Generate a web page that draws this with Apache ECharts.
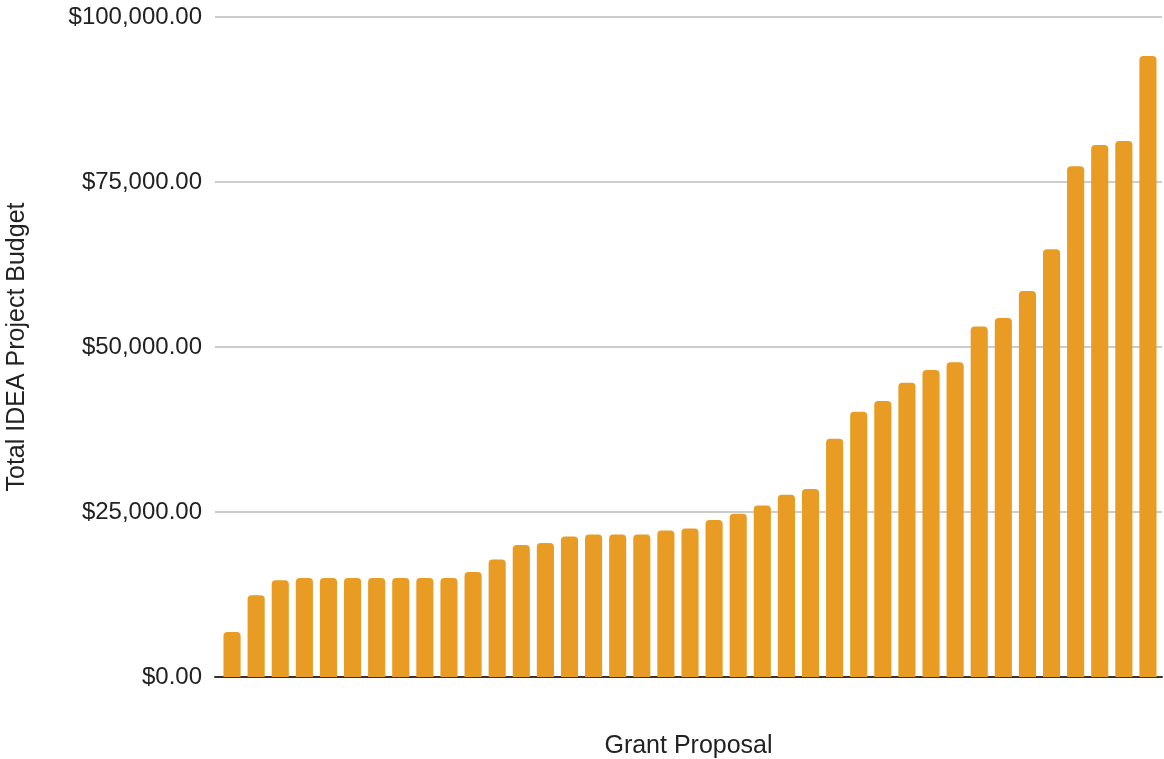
<!DOCTYPE html>
<html>
<head>
<meta charset="utf-8">
<title>Total IDEA Project Budget by Grant Proposal</title>
<script src="https://cdn.jsdelivr.net/npm/echarts@6/dist/echarts.min.js"></script>
<style>
  html, body { margin: 0; padding: 0; background: #ffffff; }
  #chart { width: 1164px; height: 759px; }
</style>
</head>
<body>
<div id="chart"></div>
<script>
// Budget per grant proposal, sorted ascending
const proposals = Array.from({ length: 39 }, (_, i) => 'Proposal ' + (i + 1));
const budgets = [
  6800, 12400, 14650, 15000, 15000, 15000, 15000, 15000, 15000, 15000,
  15900, 17800, 20000, 20300, 21300, 21600, 21600, 21600, 22200, 22500,
  23800, 24750, 26000, 27600, 28500, 36100, 40200, 41800, 44600, 46500,
  47700, 53100, 54400, 58500, 64800, 77400, 80600, 81200, 94100
];
const yTicks = [0, 25000, 50000, 75000, 100000];

function money(v) {
  return '$' + v.toFixed(2).replace(/\B(?=(\d{3})+(?!\d))/g, ',');
}

const font = 'Liberation Sans, Arial, sans-serif';
const yMin = yTicks[0];
const yMax = yTicks[yTicks.length - 1];
const yStep = yTicks[1] - yTicks[0];

const chart = echarts.init(document.getElementById('chart'), null, { renderer: 'canvas' });

chart.setOption({
  animation: false,
  backgroundColor: '#ffffff',
  // grid 0 carries the gridlines, baseline and axis titles;
  // grid 1 is slightly inset and holds the bars
  grid: [
    { left: 215, right: 2, top: 17, bottom: 82, containLabel: false, outerBoundsMode: 'none' },
    { left: 220, right: 4, top: 17, bottom: 82, containLabel: false, outerBoundsMode: 'none' }
  ],
  xAxis: [{
    gridIndex: 0,
    type: 'category',
    data: proposals,
    name: 'Grant Proposal',
    nameLocation: 'middle',
    nameGap: 57,
    nameTextStyle: { fontFamily: font, fontSize: 25, color: '#222222' },
    axisLine: { show: true, lineStyle: { color: '#333333', width: 2 } },
    axisTick: { show: false },
    axisLabel: { show: false },
    splitLine: { show: false }
  }, {
    gridIndex: 1,
    type: 'category',
    data: proposals,
    show: false
  }],
  yAxis: [{
    gridIndex: 0,
    type: 'value',
    min: yMin,
    max: yMax,
    interval: yStep,
    name: 'Total IDEA Project Budget',
    nameLocation: 'middle',
    nameGap: 185,
    nameRotate: 90,
    nameTextStyle: { fontFamily: font, fontSize: 25, color: '#222222' },
    axisLine: { show: false },
    axisTick: { show: false },
    axisLabel: {
      margin: 13,
      fontFamily: font,
      fontSize: 24,
      color: '#222222',
      formatter: money
    },
    splitLine: { show: true, lineStyle: { color: '#cccccc', width: 2 } }
  }, {
    gridIndex: 1,
    type: 'value',
    min: yMin,
    max: yMax,
    interval: yStep,
    show: false,
    splitLine: { show: false }
  }],
  series: [{
    type: 'bar',
    xAxisIndex: 1,
    yAxisIndex: 1,
    data: budgets,
    barCategoryGap: '29%',
    itemStyle: { color: '#e89c23', borderRadius: [4, 4, 0, 0] }
  }]
});
</script>
</body>
</html>
